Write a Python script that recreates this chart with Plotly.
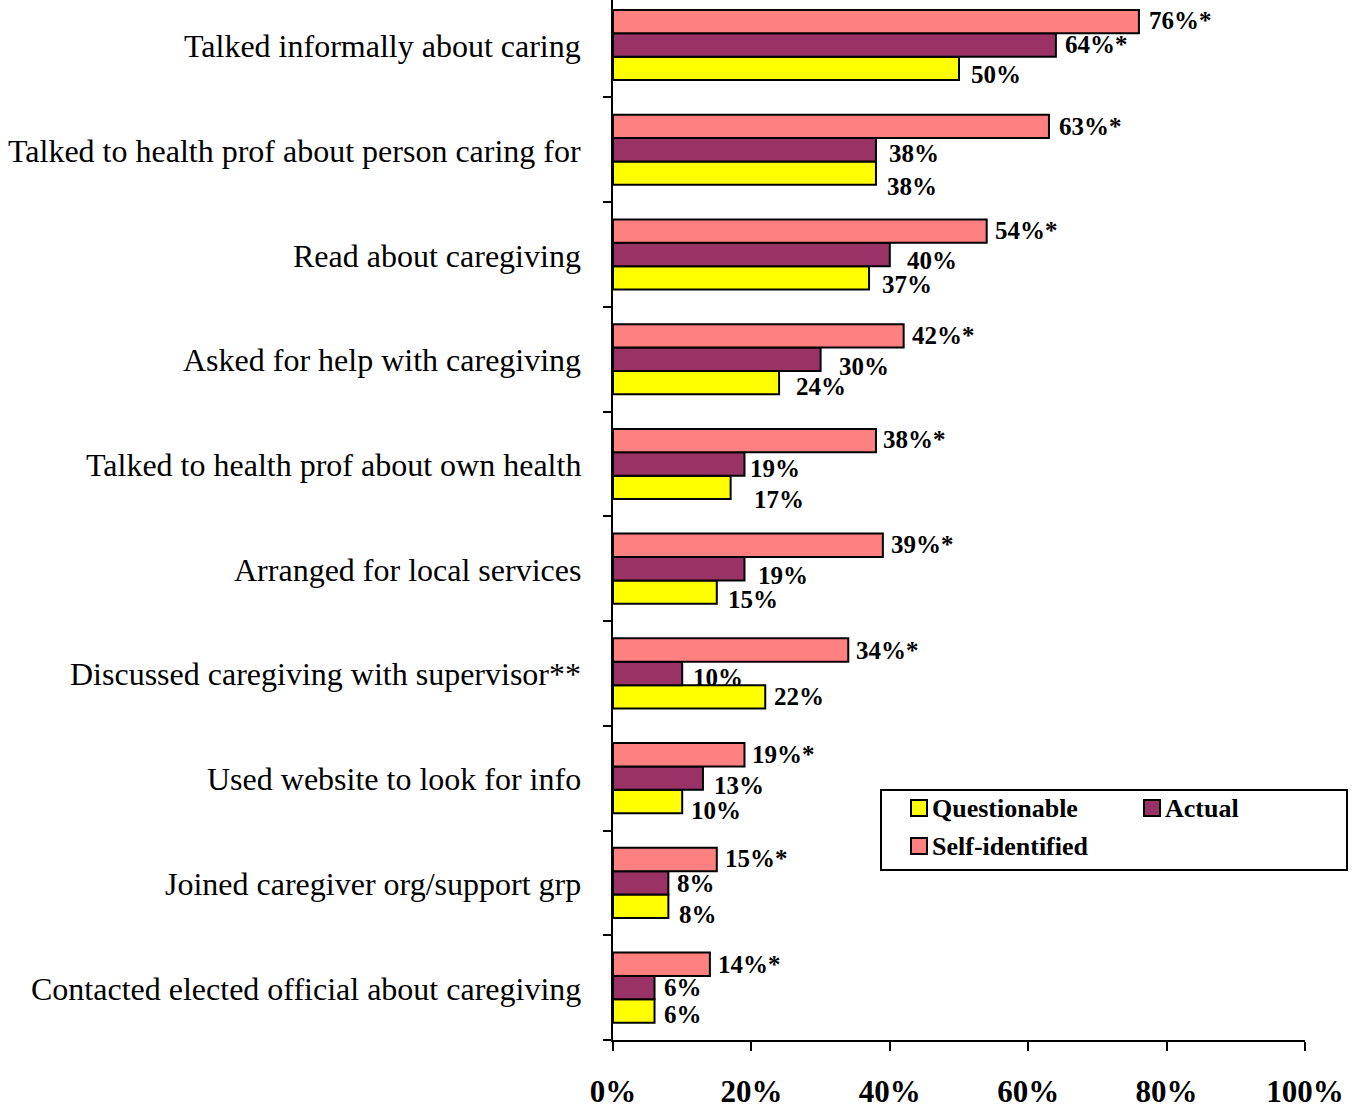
import plotly.graph_objects as go

# Caregiving activities, listed top to bottom
categories = [
    "Talked informally about caring",
    "Talked to health prof about person caring for",
    "Read about caregiving",
    "Asked for help with caregiving",
    "Talked to health prof about own health",
    "Arranged for local services",
    "Discussed caregiving with supervisor**",
    "Used website to look for info",
    "Joined caregiver org/support grp",
    "Contacted elected official about caregiving",
]

# Percent of each caregiver group, same order as categories
self_identified = [76, 63, 54, 42, 38, 39, 34, 19, 15, 14]
actual = [64, 38, 40, 30, 19, 19, 10, 13, 8, 6]
questionable = [50, 38, 37, 24, 17, 15, 22, 10, 8, 6]

# Significance markers appended to the value labels
self_marks = ["*"] * 10
actual_marks = ["*", "", "", "", "", "", "", "", "", ""]
questionable_marks = [""] * 10

x_ticks = [0, 20, 40, 60, 80, 100]
x_tick_text = ["0%", "20%", "40%", "60%", "80%", "100%"]

# Small hand nudges (pixels) so value labels do not collide
self_dx = [10, 10, 8, 8, 7, 8, 8, 8, 8, 8]
self_dy = [0, 1, 0, 1, 0, 0, 1, 1, 0, 1]
actual_dx = [9, 13, 17, 18, 6, 14, 11, 11, 9, 9]
actual_dy = [0, 5, 7, 8, 6, 8, 5, 8, 2, 1]
quest_dx = [12, 11, 13, 17, 23, 11, 9, 9, 11, 9]
quest_dy = [7, 14, 8, 5, 13, 8, 1, 10, 9, 4]

PINK = "#FF8080"
PURPLE = "#993366"
YELLOW = "#FFFF00"
SERIF = "Liberation Serif"

n = len(categories)
ypos = [n - 1 - i for i in range(n)]  # top category gets the highest index

fig = go.Figure()
series = [
    ("Questionable", questionable, YELLOW),
    ("Actual", actual, PURPLE),
    ("Self-identified", self_identified, PINK),
]
for name, vals, col in series:
    fig.add_trace(go.Bar(
        name=name, x=vals, y=ypos, orientation="h",
        marker=dict(color=col, line=dict(color="black", width=2)),
        showlegend=False, hoverinfo="x+name",
    ))

BARGAP = 0.33
bar_w = (1 - BARGAP) / 3
offsets = {"Questionable": -bar_w, "Actual": 0.0, "Self-identified": bar_w}

annotations = []
label_sets = [
    ("Self-identified", self_identified, self_marks, self_dx, self_dy),
    ("Actual", actual, actual_marks, actual_dx, actual_dy),
    ("Questionable", questionable, questionable_marks, quest_dx, quest_dy),
]
for name, vals, marks, dxs, dys in label_sets:
    for i in range(n):
        annotations.append(dict(
            x=vals[i], y=ypos[i] + offsets[name], xref="x", yref="y",
            text=f"{vals[i]}%{marks[i]}", showarrow=False,
            xanchor="left", yanchor="middle",
            xshift=dxs[i] - 2, yshift=-dys[i] + 1,
            font=dict(family=SERIF, size=25, color="black", weight="bold"),
        ))

# Category labels to the left of the axis
for i, cat in enumerate(categories):
    annotations.append(dict(
        x=0, y=ypos[i], xref="paper", yref="y", text=cat, showarrow=False,
        xanchor="right", yanchor="middle", xshift=-30, yshift=-1,
        font=dict(family=SERIF, size=32, color="black"),
    ))

# Legend drawn as a boxed key
L, W, H = 613, 692, 1040


def px(xp):
    return (xp - L) / W


def py(yp):
    return (H - yp) / H


shapes = [dict(type="rect", xref="paper", yref="paper",
               x0=px(881), x1=px(1347), y0=py(870), y1=py(790),
               line=dict(color="black", width=2), fillcolor="white", layer="above")]
legend_items = [
    ("Questionable", YELLOW, 911, 808),
    ("Actual", PURPLE, 1144, 808),
    ("Self-identified", PINK, 911, 846),
]
for name, col, sx, sy in legend_items:
    shapes.append(dict(type="rect", xref="paper", yref="paper",
                       x0=px(sx), x1=px(sx + 16), y0=py(sy + 8), y1=py(sy - 8),
                       line=dict(color="black", width=2), fillcolor=col, layer="above"))
    annotations.append(dict(
        x=px(sx + 19), y=py(sy), xref="paper", yref="paper", text=name,
        showarrow=False, xanchor="left", yanchor="middle", yshift=0,
        font=dict(family=SERIF, size=26, color="black", weight="bold"),
    ))

fig.update_layout(
    width=1364, height=1109,
    margin=dict(l=613, r=59, t=0, b=69, autoexpand=False),
    paper_bgcolor="white", plot_bgcolor="white",
    barmode="group", bargap=BARGAP, bargroupgap=0,
    annotations=annotations, shapes=shapes,
    showlegend=False,
    xaxis=dict(
        range=[0, 100], tickvals=x_ticks, ticktext=x_tick_text,
        ticks="outside", ticklen=9, tickwidth=2, tickcolor="black",
        showline=True, linecolor="black", linewidth=2,
        showgrid=False, zeroline=False, ticklabelstandoff=14,
        automargin=False,
        tickfont=dict(family=SERIF, size=31, color="black", weight="bold"),
    ),
    yaxis=dict(
        range=[-0.5, 9.43], tickvals=[k - 0.5 for k in range(n)],
        ticks="outside", ticklen=8, tickwidth=2, tickcolor="black",
        showticklabels=False, showline=True, linecolor="black", linewidth=2,
        showgrid=False, zeroline=False, automargin=False,
    ),
)

fig.write_html("out.html")
